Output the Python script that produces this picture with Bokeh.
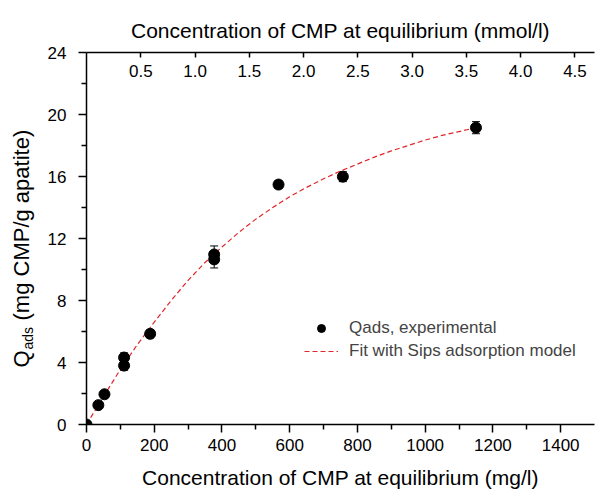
import math
from bokeh.plotting import figure
from bokeh.layouts import row
from bokeh.models import (Range1d, LinearAxis, FixedTicker, Whisker, TeeHead,
                          ColumnDataSource, Legend, LegendItem,
                          NumeralTickFormatter)
from bokeh.core.properties import value
from bokeh.embed import file_html
from bokeh.resources import INLINE

# ---------------- data ----------------
conc_mg = [0, 35, 53, 111, 111, 188, 377, 377, 567, 757, 1150]
q_ads = [0.0, 1.25, 1.95, 4.32, 3.80, 5.85, 10.97, 10.65, 15.48, 15.99, 19.15]
q_err = [0.0, 0.15, 0.15, 0.30, 0.30, 0.25, 0.55, 0.55, 0.25, 0.32, 0.39]

fit_conc = [0, 50, 100, 150, 200, 250, 300, 350, 400, 450, 500, 550, 600,
            650, 700, 750, 800, 850, 900, 950, 1000, 1050, 1100, 1150]
fit_q = [0.0, 1.80, 3.55, 5.15, 6.60, 8.00, 9.30, 10.45, 11.45, 12.40, 13.25,
         14.00, 14.70, 15.30, 15.85, 16.35, 16.80, 17.25, 17.65, 18.00, 18.35,
         18.65, 18.90, 19.15]

x_ticks = [0, 200, 400, 600, 800, 1000, 1200, 1400]
x_minor = [100, 300, 500, 700, 900, 1100, 1300]
y_ticks = [0, 4, 8, 12, 16, 20, 24]
y_minor = [2, 6, 10, 14, 18, 22]
mmol_ticks = [0.5, 1.0, 1.5, 2.0, 2.5, 3.0, 3.5, 4.0, 4.5]
MW_CMP = 320.5          # mg per mmol, conversion used for the top axis
X_MAX = 1500
Y_MAX = 24

FONT = "Liberation Sans"
TOTAL_H = 492
TITLE_W = 40

# ---------------- main figure ----------------
p = figure(width=597 - TITLE_W, height=TOTAL_H, frame_width=508,
           frame_height=372,
           min_border_left=86 - TITLE_W, min_border_right=3,
           min_border_top=52, min_border_bottom=68,
           x_range=Range1d(0, X_MAX), y_range=Range1d(0, Y_MAX),
           output_backend="svg", toolbar_location=None,
           x_axis_location=None, y_axis_location=None)
p.extra_x_ranges = {"mmol": Range1d(0, X_MAX / MW_CMP)}
p.xgrid.visible = False
p.ygrid.visible = False
p.outline_line_color = None
p.background_fill_color = "white"
p.border_fill_color = "white"


def style_axis(ax):
    ax.axis_line_width = 1.5
    ax.axis_line_color = "black"
    ax.major_tick_line_width = 1.5
    ax.minor_tick_line_width = 1.5
    ax.major_tick_line_color = "black"
    ax.minor_tick_line_color = "black"
    ax.major_label_text_font = FONT
    ax.major_label_text_font_size = "17px"
    ax.major_label_text_color = "black"
    ax.axis_label_text_font = FONT
    ax.axis_label_text_font_size = "21px"
    ax.axis_label_text_font_style = "normal"
    ax.axis_label_text_color = "black"


xaxis = LinearAxis(ticker=FixedTicker(ticks=x_ticks, minor_ticks=x_minor),
                   axis_label="Concentration of CMP at equilibrium (mg/l)")
style_axis(xaxis)
xaxis.major_tick_in = 0
xaxis.major_tick_out = 8
xaxis.minor_tick_in = 0
xaxis.minor_tick_out = 5
xaxis.major_label_standoff = 6
xaxis.axis_label_standoff = 12
p.add_layout(xaxis, "below")

yaxis = LinearAxis(ticker=FixedTicker(ticks=y_ticks, minor_ticks=y_minor))
style_axis(yaxis)
yaxis.major_tick_in = 0
yaxis.major_tick_out = 8
yaxis.minor_tick_in = 0
yaxis.minor_tick_out = 5
yaxis.major_label_standoff = 12
p.add_layout(yaxis, "left")

topaxis = LinearAxis(x_range_name="mmol",
                     ticker=FixedTicker(ticks=mmol_ticks, minor_ticks=[]),
                     formatter=NumeralTickFormatter(format="0.0"),
                     axis_label="Concentration of CMP at equilibrium (mmol/l)")
style_axis(topaxis)
topaxis.major_tick_in = 5
topaxis.major_tick_out = 0
topaxis.minor_tick_in = 0
topaxis.minor_tick_out = 0
topaxis.major_label_standoff = -24
topaxis.axis_label_standoff = 20
p.add_layout(topaxis, "above")

# ---------------- data glyphs ----------------
src = ColumnDataSource(data=dict(x=conc_mg, y=q_ads))
err_x = [c for c, e in zip(conc_mg, q_err) if e > 0]
err_lo = [q - e for q, e in zip(q_ads, q_err) if e > 0]
err_hi = [q + e for q, e in zip(q_ads, q_err) if e > 0]
err_src = ColumnDataSource(data=dict(x=err_x, lower=err_lo, upper=err_hi))

fit_src = ColumnDataSource(data=dict(x=fit_conc, y=fit_q))
ln = p.line("x", "y", source=fit_src, line_color="#e0262c", line_width=1.2,
            line_dash="5 3")

sc = p.scatter("x", "y", source=src, marker="circle", size=11,
               fill_color="black", line_color="black")

wh = Whisker(base="x", lower="lower", upper="upper", source=err_src,
             line_color="black", line_width=1,
             upper_head=TeeHead(size=8, line_color="black", line_width=1),
             lower_head=TeeHead(size=8, line_color="black", line_width=1))
p.add_layout(wh)

legend = Legend(items=[LegendItem(label="Qads, experimental", renderers=[sc]),
                       LegendItem(label="Fit with Sips adsorption model",
                                  renderers=[ln])],
                location=(218, 63), border_line_color=None,
                background_fill_alpha=0, label_text_font=FONT,
                label_text_font_size="17px", glyph_width=34, glyph_height=20,
                label_height=20, spacing=3, padding=0, margin=0,
                label_standoff=11)
p.add_layout(legend)

# ---------------- y-axis title strip (Q with subscript "ads") ----------------
t = figure(width=TITLE_W, height=TOTAL_H, frame_width=TITLE_W,
           frame_height=TOTAL_H, min_border=0,
           x_range=Range1d(0, TITLE_W), y_range=Range1d(0, TOTAL_H),
           output_backend="svg", toolbar_location=None,
           x_axis_location=None, y_axis_location=None)
t.xgrid.visible = False
t.ygrid.visible = False
t.outline_line_color = None
t.background_fill_color = "white"
t.border_fill_color = "white"

common = dict(angle=math.pi / 2, text_font=value(FONT), text_color="black",
              text_align="left", text_baseline="middle")
t.text(x=[21], y=[177], text=["Q"], text_font_size="22px", **common)
t.text(x=[27], y=[195], text=["ads"], text_font_size="14px", **common)
t.text(x=[21], y=[224], text=["(mg CMP/g apatite)"], text_font_size="22px",
       **common)

layout = row(t, p, spacing=0)
open("out.html", "w").write(file_html(layout, INLINE))
